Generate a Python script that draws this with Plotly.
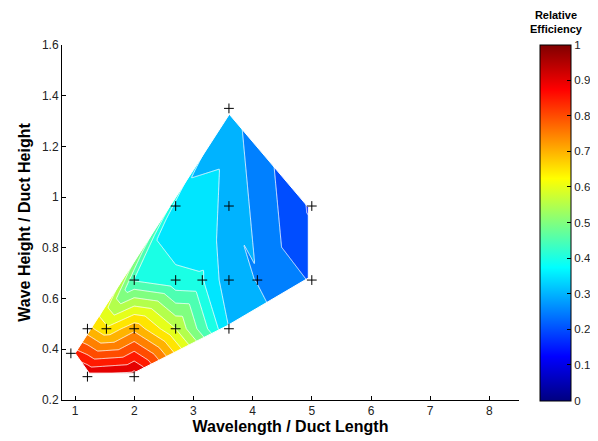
import numpy as np
import plotly.graph_objects as go

# ---- data ----
wavelength = [3.6, 2.7, 3.6, 5.0, 2.0, 2.7, 3.15, 3.6, 4.08, 5.0,
              1.21, 1.53, 2.0, 2.7, 3.6, 0.93, 1.21, 2.0]
wave_height = [1.35, 0.965, 0.965, 0.965, 0.673, 0.673, 0.673, 0.673, 0.673, 0.673,
               0.481, 0.481, 0.481, 0.481, 0.481, 0.384, 0.292, 0.292]
efficiency = [0.32, 0.362, 0.302, 0.19, 0.445, 0.41, 0.405, 0.318, 0.298, 0.245,
              0.72, 0.66, 0.735, 0.60, 0.35, 0.88, 0.96, 0.98]

x_ticks = [1, 2, 3, 4, 5, 6, 7, 8]
y_ticks = [0.2, 0.4, 0.6, 0.8, 1.0, 1.2, 1.4, 1.6]
y_ticktext = ["0.2", "0.4", "0.6", "0.8", "1", "1.2", "1.4", "1.6"]
cb_ticks = [0, 0.1, 0.2, 0.3, 0.4, 0.5, 0.6, 0.7, 0.8, 0.9, 1.0]
cb_ticktext = ["0", "0.1", "0.2", "0.3", "0.4", "0.5", "0.6", "0.7", "0.8", "0.9", "1"]
level_step = 0.05

xr = [0.78, 8.5]
yr = [0.2, 1.6]
OFF = 8                      # the page body adds an 8 px margin around the figure
W, Hh = 598 - OFF, 441 - OFF
ML, MR, MT, MB = 62 - OFF, 79, 45 - OFF, 41
PW, PH = W - ML - MR, Hh - MT - MB
sx = PW / (xr[1] - xr[0])   # px per x unit
sy = PH / (yr[1] - yr[0])   # px per y unit

px = np.array(wavelength, float)
py = np.array(wave_height, float)
pz = np.array(efficiency, float)
pts = list(zip(wavelength, wave_height))


# ---- Delaunay triangulation (Bowyer-Watson) + linear interpolation ----
def delaunay(points):
    n = len(points)
    cx = sum(p[0] for p in points) / n
    cy = sum(p[1] for p in points) / n
    big = 1e4
    verts = list(points) + [(cx - big, cy - big), (cx + big, cy - big), (cx, cy + big)]
    tris = [(n, n + 1, n + 2)]

    def in_circle(p, t):
        ax, ay = verts[t[0]]
        bx, by = verts[t[1]]
        cx_, cy_ = verts[t[2]]
        orient = (bx - ax) * (cy_ - ay) - (by - ay) * (cx_ - ax)
        adx, ady = ax - p[0], ay - p[1]
        bdx, bdy = bx - p[0], by - p[1]
        cdx, cdy = cx_ - p[0], cy_ - p[1]
        det = ((adx * adx + ady * ady) * (bdx * cdy - cdx * bdy)
               - (bdx * bdx + bdy * bdy) * (adx * cdy - cdx * ady)
               + (cdx * cdx + cdy * cdy) * (adx * bdy - bdx * ady))
        return det * orient > 0

    for i in range(n):
        p = verts[i]
        bad = [t for t in tris if in_circle(p, t)]
        count = {}
        for t in bad:
            for e in ((t[0], t[1]), (t[1], t[2]), (t[2], t[0])):
                k = tuple(sorted(e))
                count[k] = count.get(k, 0) + 1
        tris = [t for t in tris if t not in bad]
        for e, c in count.items():
            if c == 1:
                tris.append((e[0], e[1], i))
    return [t for t in tris if max(t) < n]


triangles = delaunay(pts)

gx = np.linspace(px.min() - 0.02, px.max() + 0.02, 320)
gy = np.linspace(py.min() - 0.01, py.max() + 0.01, 320)
GX, GY = np.meshgrid(gx, gy)
GZ = np.full(GX.shape, np.nan)
for (a, b, c) in triangles:
    x1, y1, x2, y2, x3, y3 = px[a], py[a], px[b], py[b], px[c], py[c]
    den = (y2 - y3) * (x1 - x3) + (x3 - x2) * (y1 - y3)
    if abs(den) < 1e-12:
        continue
    l1 = ((y2 - y3) * (GX - x3) + (x3 - x2) * (GY - y3)) / den
    l2 = ((y3 - y1) * (GX - x3) + (x1 - x3) * (GY - y3)) / den
    l3 = 1 - l1 - l2
    inside = (l1 >= -1e-9) & (l2 >= -1e-9) & (l3 >= -1e-9)
    GZ[inside] = (l1 * pz[a] + l2 * pz[b] + l3 * pz[c])[inside]


# ---- convex hull of the measurement points ----
def hull(points):
    ps = sorted(set(points))

    def cross(o, a, b):
        return (a[0] - o[0]) * (b[1] - o[1]) - (a[1] - o[1]) * (b[0] - o[0])

    lower, upper = [], []
    for p in ps:
        while len(lower) >= 2 and cross(lower[-2], lower[-1], p) <= 0:
            lower.pop()
        lower.append(p)
    for p in reversed(ps):
        while len(upper) >= 2 and cross(upper[-2], upper[-1], p) <= 0:
            upper.pop()
        upper.append(p)
    return lower[:-1] + upper[:-1]  # counter-clockwise


H = hull(pts)
# slightly inset boundary (the gridded fill stops a few pixels inside the hull)
inset_px = 3.5
Hp = [(x * sx, y * sy) for x, y in H]
lines = []
for i in range(len(Hp)):
    (x1, y1), (x2, y2) = Hp[i], Hp[(i + 1) % len(Hp)]
    dx, dy = x2 - x1, y2 - y1
    ln = np.hypot(dx, dy)
    nx, ny = -dy / ln, dx / ln
    lines.append(((x1 + inset_px * nx, y1 + inset_px * ny), (dx, dy)))
inner = []
for i in range(len(lines)):
    (p1, d1), (p2, d2) = lines[i - 1], lines[i]
    det = d1[0] * (-d2[1]) - d1[1] * (-d2[0])
    t = ((p2[0] - p1[0]) * (-d2[1]) - (p2[1] - p1[1]) * (-d2[0])) / det
    inner.append(((p1[0] + t * d1[0]) / sx, (p1[1] + t * d1[1]) / sy))

rect = [(xr[0] - 1, yr[0] - 1), (xr[0] - 1, yr[1] + 1), (xr[1] + 1, yr[1] + 1),
        (xr[1] + 1, yr[0] - 1), (xr[0] - 1, yr[0] - 1)]
i0 = min(range(len(inner)), key=lambda k: inner[k][0])
hull_loop = inner[i0:] + inner[:i0] + [inner[i0]]
mask = rect + hull_loop + [rect[0]]
mx = [p[0] for p in mask]
my = [p[1] for p in mask]


# ---- MATLAB jet colormap ----
def jet(v):
    v = float(np.clip(v, 0, 1))
    r = np.clip(1.5 - abs(4 * v - 3), 0, 1)
    g = np.clip(1.5 - abs(4 * v - 2), 0, 1)
    b = np.clip(1.5 - abs(4 * v - 1), 0, 1)
    return "rgb(%d,%d,%d)" % (round(r * 255), round(g * 255), round(b * 255))


jet_cs = [[s, jet(s)] for s in [0, 0.125, 0.375, 0.625, 0.875, 1.0]]
# each band [L, L+step] takes the colour of its lower level L (as contourf does)
n_lev = int(round(1 / level_step)) + 1
fill_cs = []
for s in np.linspace(0, 1, 211):
    lev = s * n_lev * level_step - level_step
    fill_cs.append([float(s), jet(lev)])

fig = go.Figure()
fig.add_trace(go.Contour(
    x=gx, y=gy, z=GZ,
    colorscale=fill_cs, showscale=False,
    autocontour=False,
    contours=dict(start=0, end=1, size=level_step, coloring="fill"),
    line=dict(color="rgba(255,255,255,0.85)", width=1),
    hoverinfo="skip",
))
fig.add_trace(go.Scatter(
    x=mx, y=my, mode="lines", fill="toself", fillcolor="white",
    line=dict(color="white", width=1), hoverinfo="skip", showlegend=False,
))
fig.add_trace(go.Scatter(
    x=wavelength, y=wave_height, mode="markers",
    marker=dict(symbol="cross-thin", size=7, line=dict(width=1, color="black")),
    showlegend=False, cliponaxis=False,
))
fig.add_trace(go.Scatter(
    x=[None], y=[None], mode="markers", showlegend=False, hoverinfo="skip",
    marker=dict(color=[0], cmin=0, cmax=1, colorscale=jet_cs, showscale=True,
                colorbar=dict(
                    x=(540 - OFF - ML) / PW, xanchor="left", xref="paper",
                    y=0.5, yanchor="middle", len=PH + 1, lenmode="pixels",
                    thickness=31, thicknessmode="pixels",
                    outlinecolor="black", outlinewidth=1,
                    ticks="inside", ticklen=4, tickcolor="black",
                    tickvals=cb_ticks, ticktext=cb_ticktext,
                    tickfont=dict(family="Liberation Sans, Arial", size=11.5, color="#222"),
                    xpad=0, ypad=0,
                )),
))

fig.add_annotation(
    text="<b>Relative<br>Efficiency</b>", xref="paper", yref="paper",
    x=(556 - OFF - ML) / PW, y=(PH + MT) / PH,
    xanchor="center", yanchor="top", showarrow=False, borderpad=0,
    font=dict(family="Liberation Sans, Arial", size=11, color="black"),
)

axis_font = dict(family="Liberation Sans, Arial", size=12, color="#222")
title_font = dict(family="Liberation Sans, Arial", size=16, color="black")
fig.update_layout(
    width=W, height=Hh,
    margin=dict(l=ML, r=MR, t=MT, b=MB, autoexpand=False),
    paper_bgcolor="white", plot_bgcolor="white",
    showlegend=False,
    xaxis=dict(range=xr, tickvals=x_ticks, ticks="inside", ticklen=4, automargin=False,
               showline=True, linecolor="black", linewidth=1, tickcolor="black",
               showgrid=False, zeroline=False, tickfont=axis_font,
               title=dict(text="<b>Wavelength / Duct Length</b>", font=title_font, standoff=0)),
    yaxis=dict(range=yr, tickvals=y_ticks, ticktext=y_ticktext, ticks="inside", ticklen=4,
               automargin=False,
               showline=True, linecolor="black", linewidth=1, tickcolor="black",
               showgrid=False, zeroline=False, tickfont=axis_font,
               title=dict(text="<b>Wave Height / Duct Height</b>", font=title_font, standoff=7)),
)

fig.write_html("out.html")
